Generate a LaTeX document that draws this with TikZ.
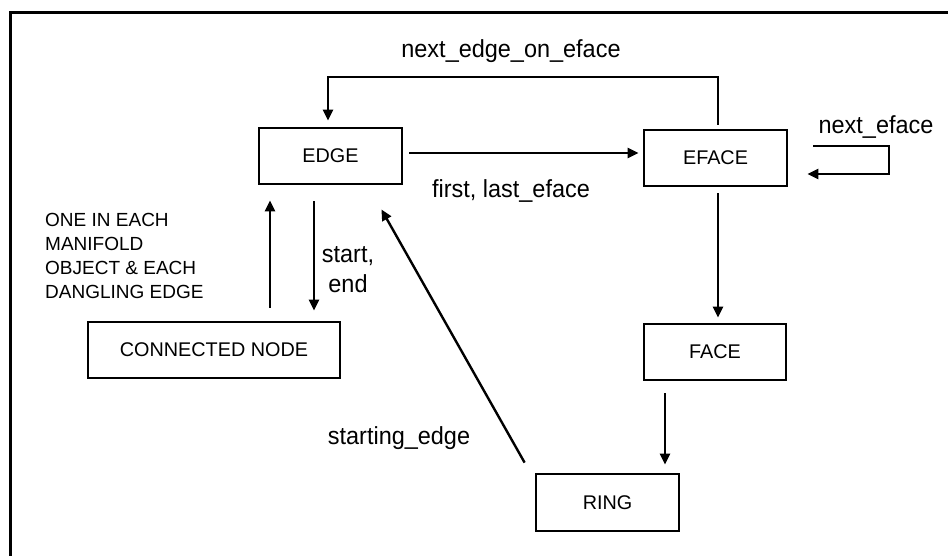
\documentclass[tikz,border=0pt]{standalone}
\usepackage{fontspec}
\setmainfont{Liberation Sans}
\newfontfamily\lblfont[FakeStretch=0.95]{Liberation Sans}
\usetikzlibrary{arrows.meta,calc}
\tikzset{
  box/.style={draw, line width=2.8pt, minimum width=143pt, minimum height=56pt, inner sep=0pt, font=\fontsize{19.8}{24}\selectfont},
  arr/.style={line width=2.4pt, -{Triangle[length=11pt,width=10pt]}},
  lbl/.style={inner sep=0pt, font=\lblfont\fontsize{24.7}{30}\selectfont},
  note/.style={inner sep=0pt, align=left, font=\fontsize{19}{24}\selectfont},
}
\begin{document}
\begin{tikzpicture}[x=1pt,y=-1pt]
\useasboundingbox (0,0) rectangle (948,556);
\fill[white] (0,0) rectangle (948,556);
% frame
\coordinate (fbl) at (10,556);
\coordinate (ftl) at (10,13);
\coordinate (ftr) at (948,13);
\draw[line width=3pt] (fbl) -- (ftl) -- (ftr);

% boxes
\node[box] (EDGE) at (330.5,156) {EDGE};
\node[box] (EFACE) at (715.5,158) {EFACE};
\node[box, minimum width=142pt] (FACE) at (715,352) {FACE};
\node[box, minimum height=57pt] (RING) at (607.5,502.5) {RING};
\node[box, minimum width=252pt] (CN) at (214,350) {CONNECTED NODE};

% EDGE -> EFACE
\draw[arr, shorten <=6pt, shorten >=4pt] ([yshift=3pt]EDGE.east) -- ([yshift=5pt]EFACE.west);

% next_edge_on_eface loop
\coordinate (topy) at (0,77);
\coordinate (efn) at ([xshift=2.5pt]EFACE.north);
\coordinate (edn) at ([xshift=-2.5pt,yshift=6pt]EDGE.north);
\draw[arr, shorten <=4pt] (efn) -- (efn |- topy) -| (edn);

% next_eface self loop
\coordinate (lp1) at ([xshift=25pt,yshift=12pt]EFACE.east);
\coordinate (lp2) at ([xshift=19pt,yshift=-16pt]EFACE.east);
\coordinate (lpr) at (889,0);
\draw[arr] (lp1) -- (lp1 -| lpr) |- (lp2);

% EFACE -> FACE
\draw[arr, shorten <=6pt, shorten >=5pt] ([xshift=2.5pt]EFACE.south) -- ([xshift=3pt]FACE.north);

% FACE -> RING
\coordinate (fr) at ([xshift=-50pt]FACE.south);
\draw[arr, shorten <=12pt, shorten >=8pt] (fr) -- (fr |- RING.north);

% RING -> EDGE
\coordinate (rs) at ([xshift=-10pt,yshift=10pt]RING.north west);
\coordinate (ee) at ([xshift=-22pt,yshift=-24pt]EDGE.south east);
\draw[arr] (rs) -- (ee);

% CN -> EDGE (up)
\coordinate (u1) at ([xshift=-60.5pt]EDGE.south);
\draw[arr, shorten <=13pt, shorten >=15pt] (u1 |- CN.north) -- (u1);

% EDGE -> CN (down)
\coordinate (d1) at ([xshift=-16.5pt]EDGE.south);
\draw[arr, shorten <=16pt, shorten >=10pt] (d1) -- (d1 |- CN.north);

% labels
\node[lbl] (l1) at (511,51) {next\_edge\_on\_eface};
\node[lbl] (l2) at (511,191) {first, last\_eface};
\node[lbl] (l3) at (876,127) {next\_eface};
\node[lbl] (l4) at (399,438) {starting\_edge};
\node[lbl, align=center] (l5) at (348,270) {start,\\end};
\node[note, anchor=west] (l6) at (45,256) {ONE IN EACH\\MANIFOLD\\OBJECT \& EACH\\DANGLING EDGE};
\end{tikzpicture}
\end{document}
